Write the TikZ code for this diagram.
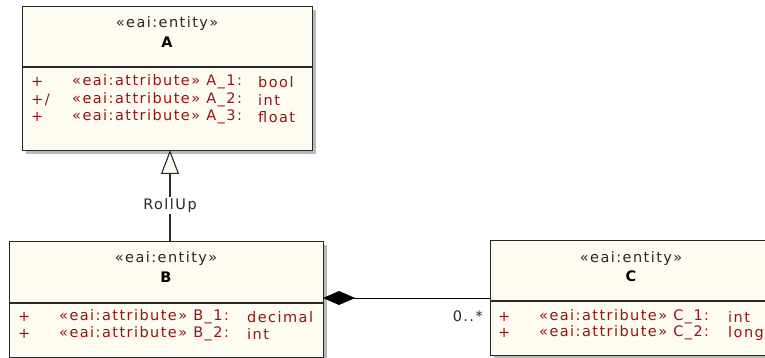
\documentclass[tikz,border=0pt]{standalone}
\usepackage{fontspec}
\setmainfont{DejaVu Sans}
\usetikzlibrary{arrows.meta}
\definecolor{cream}{RGB}{254,251,240}
\definecolor{attr}{RGB}{150,20,20}
\definecolor{ink}{RGB}{40,40,40}
\definecolor{shadowc}{RGB}{185,185,185}
\newfontfamily\umlfont[LetterSpace=10]{DejaVu Sans}
\tikzset{
  umlbox/.style={draw=ink, line width=1.4pt, fill=cream, anchor=north west, inner sep=0pt},
  shadowbox/.style={fill=shadowc, draw=none},
  hdr/.style={font=\umlfont\fontsize{14.5}{16}\selectfont, text=ink, inner sep=0pt},
  nm/.style={font=\umlfont\bfseries\fontsize{14.5}{16}\selectfont, text=black, inner sep=0pt},
  att/.style={font=\umlfont\fontsize{14.5}{16}\selectfont, text=attr, inner sep=0pt, anchor=west},
  lbl/.style={font=\umlfont\fontsize{14.5}{16}\selectfont, text=ink, inner sep=1pt},
  divider/.style={draw=ink, line width=1.2pt},
  gen/.style={draw=ink, line width=1.1pt, -{Triangle[open, length=24pt, width=18pt, fill=cream]}},
  comp/.style={draw=black, line width=1pt, -{Diamond[length=32pt, width=14pt, fill=black]}}
}
\begin{document}
\begin{tikzpicture}[x=1pt, y=-1pt]
\useasboundingbox (0,0) rectangle (765,358);
% shadows
\fill[shadowbox] (26,10) rectangle (316,154);
\fill[shadowbox] (13,245) rectangle (327,362);
\fill[shadowbox] (494,244) rectangle (775,359);
% boxes
\node[umlbox, minimum width=290pt, minimum height=144pt] (A) at (22,6) {};
\node[umlbox, minimum width=314pt, minimum height=116pt] (B) at (9,241) {};
\node[umlbox, minimum width=290pt, minimum height=115pt] (C) at (490,240) {};
\draw[divider] (22,67) -- (312,67);
\draw[divider] (9,303) -- (323,303);
\draw[divider] (490,301) -- (780,301);
% A
\node[hdr] (Ast) at (167,24) {«eai:entity»};
\node[nm] (An) at (167,42) {A};
\node[att] (A1v) at (31,82) {+};
\node[att] (A2v) at (31,100) {+/};
\node[att] (A3v) at (31,117) {+};
\node[att] (A1) at (72,82) {«eai:attribute» A\_1:};
\node[att] (A2) at (72,100) {«eai:attribute» A\_2:};
\node[att] (A3) at (72,117) {«eai:attribute» A\_3:};
\node[att] (A1t) at (258,82) {bool};
\node[att] (A2t) at (258,100) {int};
\node[att] (A3t) at (258,117) {float};
% B
\node[hdr] (Bst) at (166,258) {«eai:entity»};
\node[nm] (Bn) at (166,277) {B};
\node[att] (B1v) at (18,317) {+};
\node[att] (B2v) at (18,334) {+};
\node[att] (B1) at (59,317) {«eai:attribute» B\_1:};
\node[att] (B2) at (59,334) {«eai:attribute» B\_2:};
\node[att] (B1t) at (247,317) {decimal};
\node[att] (B2t) at (247,334) {int};
% C
\node[hdr] (Cst) at (631,258) {«eai:entity»};
\node[nm] (Cn) at (631,276) {C};
\node[att] (C1v) at (498,317) {+};
\node[att] (C2v) at (498,333) {+};
\node[att] (C1) at (539,317) {«eai:attribute» C\_1:};
\node[att] (C2) at (539,333) {«eai:attribute» C\_2:};
\node[att] (C1t) at (728,317) {int};
\node[att] (C2t) at (728,333) {long};
% connectors
\coordinate (genS) at (170,241);
\coordinate (genE) at (170,150);
\draw[gen] (genS) -- node[lbl, fill=white, pos=0.39] (roll) {RollUp} (genE);
\coordinate (compS) at (490,298);
\coordinate (compE) at (323,298);
\draw[comp] (compS) -- (compE);
\node[lbl, anchor=east] (mult) at (484,316) {0..*};
\end{tikzpicture}
\end{document}
